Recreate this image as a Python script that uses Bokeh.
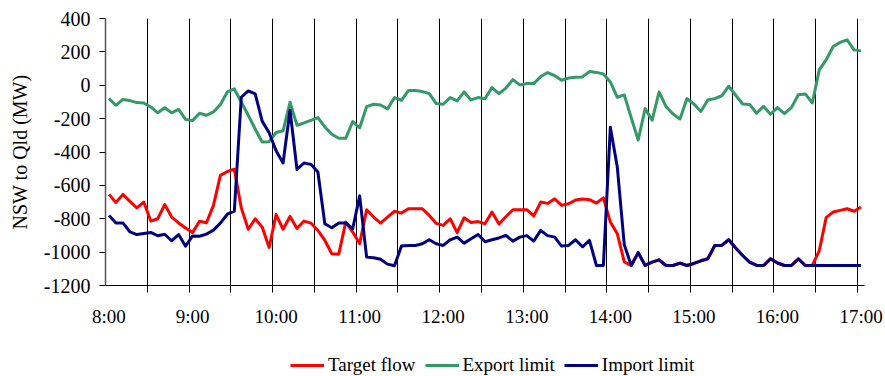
from bokeh.plotting import figure
from bokeh.layouts import column
from bokeh.models import FixedTicker, Legend, LegendItem, Range1d
from bokeh.embed import file_html
from bokeh.resources import INLINE

# 5-minute intervals from 8:00 to 17:00
times = [f"{8 + m // 60}:{m % 60:02d}" for m in range(0, 541, 5)]
hour_labels = ["8:00", "9:00", "10:00", "11:00", "12:00", "13:00",
               "14:00", "15:00", "16:00", "17:00"]
y_ticks = [-1200, -1000, -800, -600, -400, -200, 0, 200, 400]

target_flow = [
    -654, -702, -654, -696, -735, -700, -814, -800, -715, -790, -825, -855,
    -883, -815, -824, -720, -540, -517, -503, -735, -863, -800, -850, -972,
    -775, -863, -786, -858, -814, -826, -870, -930, -1010, -1012, -820, -880,
    -950, -746, -790, -826, -790, -755, -766, -740, -740, -740, -780, -828,
    -840, -800, -883, -794, -823, -817, -830, -760, -832, -788, -746, -746,
    -746, -783, -700, -708, -680, -720, -710, -688, -682, -686, -706, -675,
    -820, -890, -1058, -1080, -1003, -1080, -1060, -1046, -1080, -1080, -1066, -1080,
    -1068, -1052, -1040, -960, -960, -926, -975, -1020, -1060, -1080, -1080, -1040,
    -1065, -1080, -1080, -1040, -1080, -1080, -992, -792, -760, -750, -740, -755,
    -730,
]

export_limit = [
    -80, -120, -85, -92, -104, -106, -130, -165, -135, -165, -145, -205,
    -212, -168, -180, -160, -115, -40, -22, -100, -180, -262, -340, -338,
    -283, -273, -102, -240, -226, -210, -194, -250, -294, -318, -318, -218,
    -255, -128, -114, -118, -142, -74, -90, -32, -32, -38, -50, -110,
    -114, -74, -94, -40, -88, -74, -81, -14, -50, -17, 34, 2,
    10, 10, 52, 76, 58, 30, 43, 48, 50, 82, 77, 68,
    20, -72, -58, -195, -328, -140, -210, -40, -128, -172, -203, -80,
    -112, -157, -88, -80, -63, -6, -60, -112, -115, -168, -126, -174,
    -134, -170, -134, -57, -52, -106, 92, 152, 232, 257, 272, 212,
    206,
]

import_limit = [
    -780, -825, -825, -878, -895, -888, -882, -902, -893, -932, -895, -965,
    -903, -905, -892, -868, -826, -773, -755, -72, -34, -52, -215, -285,
    -393, -466, -150, -505, -466, -474, -520, -830, -854, -825, -825, -860,
    -663, -1030, -1034, -1043, -1072, -1082, -964, -960, -960, -950, -926, -950,
    -960, -926, -910, -946, -920, -894, -938, -926, -915, -900, -934, -910,
    -901, -934, -870, -901, -910, -964, -960, -926, -968, -930, -1080, -1080,
    -252, -490, -955, -1080, -1003, -1080, -1060, -1046, -1080, -1080, -1066, -1080,
    -1068, -1052, -1040, -960, -960, -926, -975, -1020, -1060, -1080, -1080, -1040,
    -1065, -1080, -1080, -1040, -1080, -1080, -1080, -1080, -1080, -1080, -1080, -1080,
    -1080,
]

series = [
    ("Target flow", target_flow, "#FF0000"),
    ("Export limit", export_limit, "#339966"),
    ("Import limit", import_limit, "#000080"),
]

idx = list(range(len(times)))
label_pos = [times.index(h) for h in hour_labels]
# half-hour boundaries between categories
boundaries = [i - 0.5 for i in idx if i % 6 == 0 and i > 0]

FONT = "Liberation Serif"

p = figure(frame_width=759, frame_height=267, output_backend="svg", toolbar_location=None,
           x_range=Range1d(-0.5, len(times) - 0.5), y_range=Range1d(-1200, 400),
           min_border_left=105, min_border_right=21, min_border_top=18,
           min_border_bottom=45)
p.outline_line_color = None
p.background_fill_color = "white"
p.border_fill_color = "white"

# vertical half-hour grid
p.xgrid.ticker = FixedTicker(ticks=boundaries)
p.xgrid.grid_line_color = "#000000"
p.xgrid.grid_line_width = 1
p.ygrid.visible = False

# x axis: labels on the hour, tick marks on half-hour boundaries
p.xaxis.ticker = FixedTicker(ticks=label_pos, minor_ticks=boundaries)
p.xaxis.major_label_overrides = {pos: lab for pos, lab in zip(label_pos, hour_labels)}
p.xaxis.major_tick_line_color = None
p.xaxis.major_tick_out = 0
p.xaxis.major_tick_in = 0
p.xaxis.minor_tick_line_color = "#000000"
p.xaxis.minor_tick_out = 7
p.xaxis.minor_tick_in = 0
p.xaxis.major_label_standoff = 13
p.xaxis.axis_line_color = "#000000"

# y axis
p.yaxis.ticker = FixedTicker(ticks=y_ticks)
p.yaxis.major_label_overrides = {t: str(t) for t in y_ticks}
p.yaxis.major_tick_out = 6
p.yaxis.major_tick_in = 0
p.yaxis.minor_tick_line_color = None
p.yaxis.axis_line_color = "#555555"
p.yaxis.axis_line_width = 1.5
p.yaxis.axis_label = "NSW to Qld (MW)"
p.yaxis.axis_label_text_font_style = "normal"
p.yaxis.major_label_standoff = 9
p.yaxis.axis_label_standoff = 10

for ax in (p.xaxis, p.yaxis):
    ax.major_label_text_font = FONT
    ax.major_label_text_font_size = "20px"
    ax.major_label_text_color = "#000000"
    ax.axis_label_text_font = FONT
    ax.axis_label_text_font_size = "20px"
    ax.axis_label_text_color = "#000000"
p.xaxis.major_label_text_font_size = "19px"

for name, values, color in series:
    p.line(idx, values, line_color=color, line_width=3, line_join="round")

# legend strip underneath the chart; its own copies of the series sit outside
# its visible y range so only the legend swatches show
lg = figure(frame_width=759, frame_height=46, output_backend="svg", toolbar_location=None,
            x_range=Range1d(-0.5, len(times) - 0.5), y_range=Range1d(1000, 2000),
            min_border_left=105, min_border_right=21, min_border_top=0, min_border_bottom=0)
lg.axis.visible = False
lg.grid.visible = False
lg.outline_line_color = None
lg.border_fill_color = "white"
lg.background_fill_color = "white"

items = []
for name, values, color in series:
    swatch = lg.line(idx, values, line_color=color, line_width=3)
    items.append(LegendItem(label=name, renderers=[swatch]))

legend = Legend(items=items, orientation="horizontal", location=(185, 0))
legend.label_text_font = FONT
legend.label_text_font_size = "19px"
legend.label_text_color = "#000000"
legend.glyph_width = 34
legend.glyph_height = 20
legend.label_standoff = 4
legend.spacing = 9
legend.padding = 0
legend.margin = 0
legend.border_line_color = None
legend.background_fill_alpha = 0
lg.add_layout(legend, "center")

layout = column(p, lg, spacing=0)

open("out.html", "w").write(file_html(layout, INLINE))
